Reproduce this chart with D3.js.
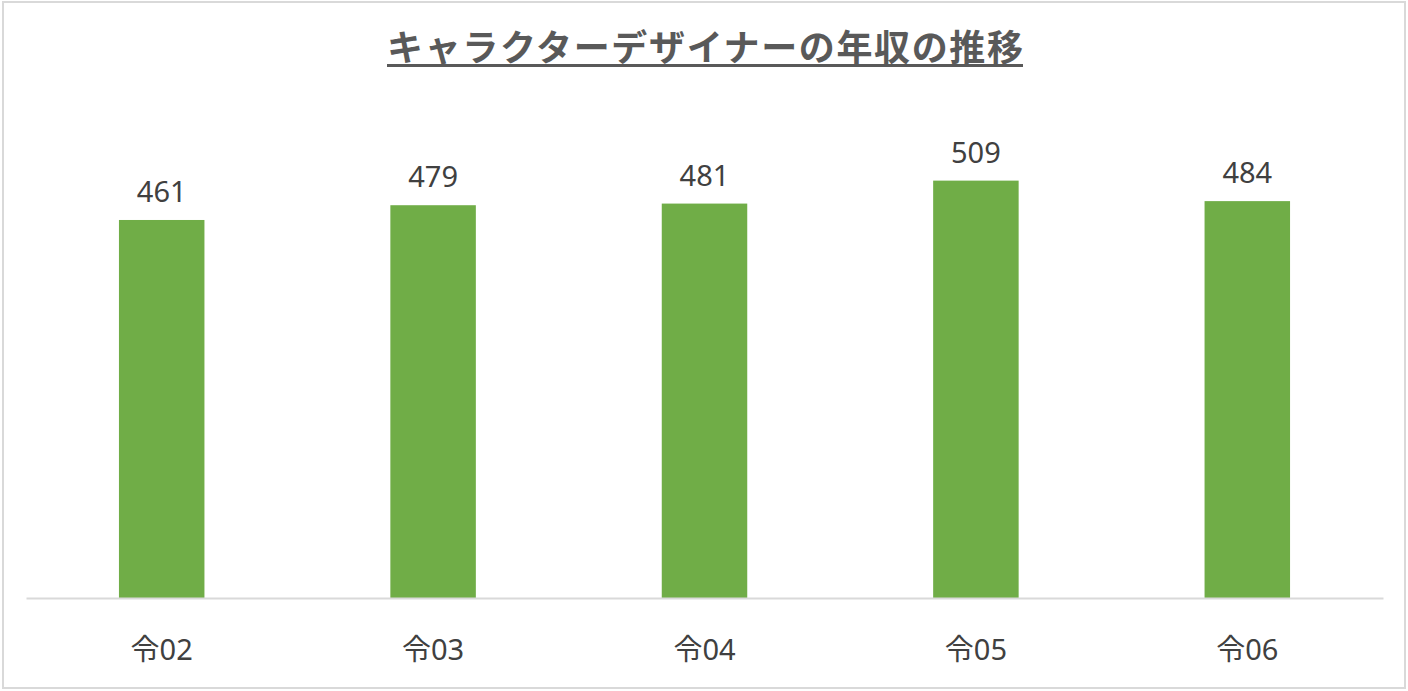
<!DOCTYPE html>
<html>
<head>
<meta charset="utf-8">
<script src="https://cdn.jsdelivr.net/npm/d3@7"></script>
<style>
  html, body { margin: 0; padding: 0; background: #fff; }
  svg { display: block; }
  text { font-family: "Noto Sans", "Noto Sans CJK JP", sans-serif; }
</style>
</head>
<body>
<svg id="chart" width="1408" height="691"></svg>
<script>
// Chart data
const title = 'キャラクターデザイナーの年収の推移';
const categories = ['令02', '令03', '令04', '令05', '令06'];
const salaries = [461, 479, 481, 509, 484];
const yDomain = [0, 600];

const width = 1408, height = 691;
const margin = {top: 106, right: 25, bottom: 93, left: 26};

const svg = d3.select('#chart');

// Outer frame
svg.append('rect').
  attr('x', 3).attr('y', 2).
  attr('width', width - 6).attr('height', height - 5).
  attr('fill', '#fff').
  attr('stroke', '#d9d9d9').
  attr('stroke-width', 2);

const x = d3.scaleBand().
  domain(categories).
  range([margin.left, width - margin.right]).
  paddingInner(0.685).
  paddingOuter(0.3425);

const y = d3.scaleLinear().
  domain(yDomain).
  range([height - margin.bottom, margin.top]);

// Title, underlined
const titleText = svg.append('text').
  attr('x', 705).attr('y', 61).
  attr('text-anchor', 'middle').
  attr('fill', '#595959').
  attr('textLength', 636).
  attr('lengthAdjust', 'spacing').
  style('font-family', '"Noto Sans CJK JP", sans-serif').
  style('font-size', '36px').
  style('font-weight', 'bold').
  text(title);
const tb = titleText.node().getBBox();
svg.append('rect').
  attr('x', tb.x).attr('y', 64).
  attr('width', tb.width).attr('height', 3).
  attr('fill', '#595959');

// Bars
svg.append('g').
  selectAll('rect').
  data(salaries).
  join('rect').
    attr('x', (d, i) => x(categories[i])).
    attr('y', (d) => y(d)).
    attr('width', x.bandwidth()).
    attr('height', (d) => y(0) - y(d)).
    attr('fill', '#70ad47');

// Value labels
svg.append('g').
  selectAll('text').
  data(salaries).
  join('text').
    attr('x', (d, i) => x(categories[i]) + x.bandwidth() / 2).
    attr('y', (d) => y(d) - 18).
    attr('text-anchor', 'middle').
    attr('fill', '#404040').
    style('font-size', '29px').
    text((d) => d);

// Category axis
const axis = svg.append('g').
  attr('transform', `translate(0,${y(0)})`).
  call(d3.axisBottom(x).tickSize(0).tickPadding(0));
axis.select('.domain').
  attr('stroke', '#d9d9d9').
  attr('stroke-width', 2);
axis.selectAll('.tick text').
  attr('dy', null).
  attr('y', 62).
  attr('fill', '#404040').
  style('font-family', '"Noto Sans", "Noto Sans CJK JP", sans-serif').
  style('font-size', '29px');
</script>
</body>
</html>
